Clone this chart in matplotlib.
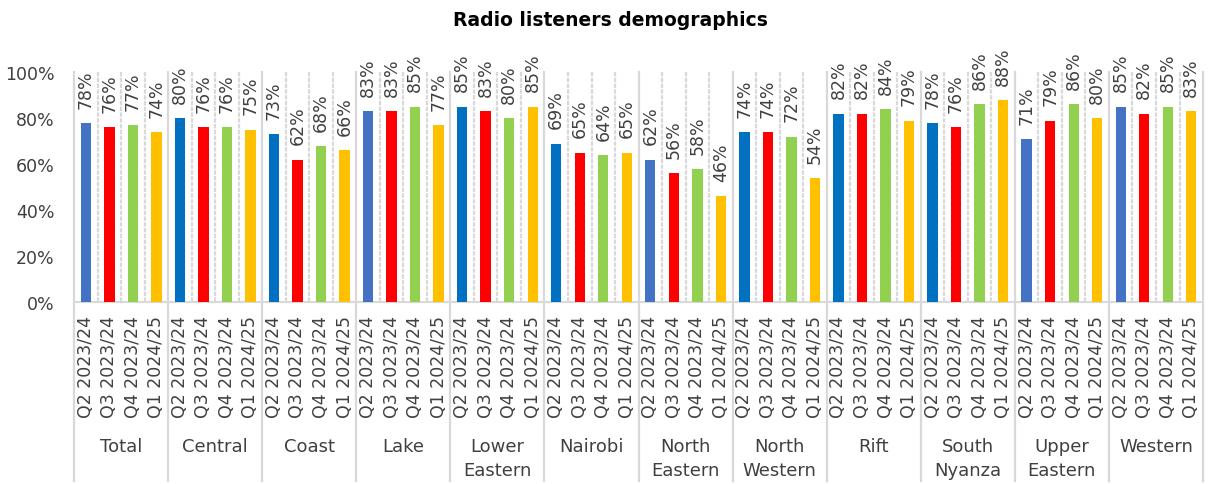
import numpy as np
import matplotlib.pyplot as plt
import matplotlib.transforms as mtransforms

# regions and quarters
regions = ["Total", "Central", "Coast", "Lake", "Lower\nEastern", "Nairobi",
           "North\nEastern", "North\nWestern", "Rift", "South\nNyanza",
           "Upper\nEastern", "Western"]
quarters = ["Q2 2023/24", "Q3 2023/24", "Q4 2023/24", "Q1 2024/25"]

# share of radio listeners (%) per region, one list per quarter
q2_2324 = [78, 80, 73, 83, 85, 69, 62, 74, 82, 78, 71, 85]
q3_2324 = [76, 76, 62, 83, 83, 65, 56, 74, 82, 76, 79, 82]
q4_2324 = [77, 76, 68, 85, 80, 64, 58, 72, 84, 86, 86, 85]
q1_2425 = [74, 75, 66, 77, 85, 65, 46, 54, 79, 88, 80, 83]

# the first bar of each group uses one of two blues
blue_a, blue_b = "#4472C4", "#0070C0"
first_blue = [blue_a, blue_b, blue_b, blue_a, blue_b, blue_b,
              blue_a, blue_b, blue_b, blue_b, blue_a, blue_a]
other_colors = ["#FF0000", "#92D050", "#FFC000"]

plt.rcParams['font.family'] = ['DejaVu Sans']

series = np.array([q2_2324, q3_2324, q4_2324, q1_2425])  # 4 x 12
n_grp, n_q = len(regions), len(quarters)
values = series.T.flatten()
colors = []
for g in range(n_grp):
    colors += [first_blue[g]] + other_colors
x = np.arange(len(values))

fig = plt.figure(figsize=(12.2, 4.85), dpi=100)
ax = fig.add_axes([0.0607, 0.375, 0.9254, 0.474])

ax.bar(x, values, width=0.44, color=colors, zorder=3)

# labels over the bars
for xi, v in zip(x, values):
    ax.annotate(f"{v}%", (xi, v), xytext=(0, 11), textcoords="offset points",
                rotation=90, ha="center", va="bottom", fontsize=12.5,
                color="#404040", zorder=4)

ax.set_xlim(-0.5, len(values) - 0.5)
ax.set_ylim(0, 100)
ax.set_yticks(np.arange(0, 101, 20))
ax.set_yticklabels([f"{t}%" for t in range(0, 101, 20)], fontsize=12.5, color="#404040")
ax.tick_params(axis="y", length=0, pad=14)
ax.set_xticks([])

for s in ["top", "right", "left"]:
    ax.spines[s].set_visible(False)
ax.spines["bottom"].set_color("#D9D9D9")
ax.spines["bottom"].set_linewidth(1.5)

# light separators between every bar
grid_col = "#D9D9D9"
trans = mtransforms.blended_transform_factory(ax.transData, ax.transAxes)
for k in range(len(values) + 1):
    xb = k - 0.5
    if k % n_q == 0:
        ax.plot([xb, xb], [1.0, -0.78], transform=trans, color=grid_col,
                lw=1.6, clip_on=False, zorder=1)
    else:
        ax.plot([xb, xb], [1.0, 0.0], transform=trans, color=grid_col,
                lw=1.6, ls=(0, (2, 0.6)), clip_on=False, zorder=1)

# quarter labels and region names below the axis
for xi in x:
    ax.text(xi, -0.055, quarters[xi % n_q], transform=trans, rotation=90,
            ha="center", va="top", fontsize=12.5, color="#404040")
for g, name in enumerate(regions):
    ax.text(g * n_q + (n_q - 1) / 2, -0.588, name, transform=trans,
            ha="center", va="top", fontsize=13, color="#404040",
            linespacing=1.4)

fig.text(0.5, 0.958, "Radio listeners demographics", ha="center", va="center",
         fontsize=13.5, fontweight="bold", color="#000000")

fig.savefig("out.png", dpi=100)
